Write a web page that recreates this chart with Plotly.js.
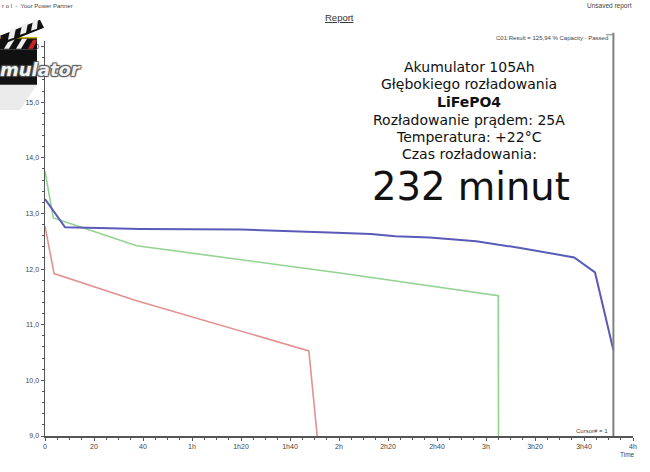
<!DOCTYPE html>
<html>
<head>
<meta charset="utf-8">
<script src="https://cdn.plot.ly/plotly-3.0.1.min.js"></script>
<style>
html,body{margin:0;padding:0;background:#fff;}
#chart{width:650px;height:472px;}
</style>
</head>
<body>
<div id="chart"></div>
<script>
// ---- data (time in minutes, voltage in V) ----
var blueTime   = [0, 8.2, 22, 39, 80, 104, 116, 133, 143, 157, 176, 194, 208, 216, 224.5, 232];
var blueVolt   = [13.26, 12.75, 12.74, 12.72, 12.71, 12.68, 12.66, 12.63, 12.59, 12.57, 12.50, 12.38, 12.27, 12.21, 11.94, 10.54];
var greenTime  = [0, 3.4, 7.5, 37.4, 120.4, 185, 185.1];
var greenVolt  = [13.76, 12.92, 12.86, 12.42, 11.93, 11.52, 9.0];
var redTime    = [0, 3.7, 37.4, 107.7, 111.1];
var redVolt    = [12.77, 11.92, 11.43, 10.53, 9.0];
var cursorMinutes = 232;

var xTickVals  = [0, 20, 40, 60, 80, 100, 120, 140, 160, 180, 200, 220, 240];
var xTickText  = ['0', '20', '40', '1h', '1h20', '1h40', '2h', '2h20', '2h40', '3h', '3h20', '3h40', '4h'];
var yTickVals  = [9, 10, 11, 12, 13, 14, 15, 16];
var yTickText  = ['9,0', '10,0', '11,0', '12,0', '13,0', '14,0', '15,0', '16,0'];

var infoLines  = ['Akumulator 105Ah', 'Głębokiego rozładowania', '<b>LiFePO4</b>',
                  'Rozładowanie prądem: 25A', 'Temperatura: +22°C', 'Czas rozładowania:'];
var bigLine    = '232 minut';

// ---- layout helpers (pixel -> paper) ----
var L = 45, R = 633, T = 41.2, B = 435.7;
function px(x){ return (x - L) / (R - L); }
function py(y){ return (B - y) / (B - T); }

var traces = [
  {x: redTime, y: redVolt, mode: 'lines', line: {color: '#e39191', width: 1.6}, hoverinfo: 'skip'},
  {x: greenTime, y: greenVolt, mode: 'lines', line: {color: '#92d392', width: 1.6}, hoverinfo: 'skip'},
  {x: blueTime, y: blueVolt, mode: 'lines', line: {color: '#5a5ab8', width: 2}, hoverinfo: 'skip'}
];

var F = 'DejaVu Sans, sans-serif';
var ann = [];
var lineY = [67, 84, 102, 120, 137, 154];
infoLines.forEach(function(t, i){
  ann.push({xref:'paper', yref:'paper', x: px(469), y: py(lineY[i]), text: t, showarrow:false,
            xanchor:'center', yanchor:'middle', font:{family:F, size:14, color:'#111'}});
});
ann.push({xref:'paper', yref:'paper', x: px(471), y: py(187), text: bigLine, showarrow:false,
          xanchor:'center', yanchor:'middle', font:{family:F, size:38.5, color:'#111'}});
// header texts
ann.push({xref:'paper', yref:'paper', x: px(0), y: py(6), text: 'r o l  -  Your Power Partner', showarrow:false,
          xanchor:'left', yanchor:'middle', font:{family:'Liberation Sans, Arial', size:6, color:'#444'}});
ann.push({xref:'paper', yref:'paper', x: px(634), y: py(6), text: 'Unsaved report', showarrow:false,
          xanchor:'right', yanchor:'middle', font:{family:'Liberation Sans, Arial', size:6.5, color:'#444'}});
ann.push({xref:'paper', yref:'paper', x: px(340), y: py(18), text: '<u>Report</u>', showarrow:false,
          xanchor:'center', yanchor:'middle', font:{family:'Liberation Sans, Arial', size:9.5, color:'#333'}});
ann.push({xref:'paper', yref:'paper', x: px(610), y: py(38), text: 'C01:Result = 125,94 % Capacity - Passed', showarrow:false,
          xanchor:'right', yanchor:'middle', font:{family:'Liberation Sans, Arial', size:6, color:'#444'}});
ann.push({xref:'paper', yref:'paper', x: px(610), y: py(431), text: 'Cursor# = 1', showarrow:false,
          xanchor:'right', yanchor:'middle', font:{family:'Liberation Sans, Arial', size:6, color:'#444'}});
ann.push({xref:'paper', yref:'paper', x: px(627), y: py(454), text: 'Time', showarrow:false,
          xanchor:'center', yanchor:'middle', font:{family:'Liberation Sans, Arial', size:6.5, color:'#444'}});
// logo text
ann.push({xref:'paper', yref:'paper', x: px(-2), y: py(70), text: '<b><i>mulator</i></b>', showarrow:false,
          xanchor:'left', yanchor:'middle',
          font:{family:'DejaVu Sans, sans-serif', size:18, color:'#f2f2f2', shadow:'1px 1px 1px #555, -1px -1px 1px #555, 1px -1px 1px #555, -1px 1px 1px #555'}});

var shapes = [
  // cursor line
  {type:'line', xref:'x', yref:'paper', x0: cursorMinutes, x1: cursorMinutes, y0: 0, y1: py(33),
   line:{color:'#808080', width:2}},
  {type:'line', xref:'paper', yref:'paper', x0: px(606), x1: px(613), y0: py(35), y1: py(35), line:{color:'#808080', width:1}},
  // logo: shadow
  {type:'path', xref:'paper', yref:'paper', layer:'below',
   path:'M '+px(0)+' '+py(85)+' L '+px(37)+' '+py(85)+' L '+px(20)+' '+py(110)+' L '+px(0)+' '+py(110)+' Z',
   fillcolor:'rgba(0,0,0,0.08)', line:{width:0}},
  // logo: black board
  {type:'rect', xref:'paper', yref:'paper', x0: px(0), x1: px(37), y0: py(85), y1: py(50),
   fillcolor:'#111', line:{width:0}},
  // board stripe bar
  {type:'rect', xref:'paper', yref:'paper', x0: px(0), x1: px(37), y0: py(50), y1: py(38),
   fillcolor:'#111', line:{width:0}},
  {type:'path', xref:'paper', yref:'paper',
   path:'M '+px(4)+' '+py(49)+' L '+px(10)+' '+py(39)+' L '+px(15)+' '+py(39)+' L '+px(9)+' '+py(49)+' Z',
   fillcolor:'#eee', line:{width:0}},
  {type:'path', xref:'paper', yref:'paper',
   path:'M '+px(16)+' '+py(49)+' L '+px(22)+' '+py(39)+' L '+px(27)+' '+py(39)+' L '+px(21)+' '+py(49)+' Z',
   fillcolor:'#eee', line:{width:0}},
  {type:'path', xref:'paper', yref:'paper',
   path:'M '+px(28)+' '+py(49)+' L '+px(33)+' '+py(40)+' L '+px(37)+' '+py(40)+' L '+px(33)+' '+py(49)+' Z',
   fillcolor:'#c22', line:{width:0}},
  {type:'line', xref:'paper', yref:'paper', x0: px(0), x1: px(37), y0: py(38), y1: py(38), line:{color:'#c8b400', width:1.5}},
  // clapper top (tilted)
  {type:'path', xref:'paper', yref:'paper',
   path:'M '+px(0)+' '+py(36)+' L '+px(40)+' '+py(20)+' L '+px(44)+' '+py(28)+' L '+px(4)+' '+py(44)+' Z',
   fillcolor:'#111', line:{width:0}},
  {type:'path', xref:'paper', yref:'paper',
   path:'M '+px(8)+' '+py(40)+' L '+px(10)+' '+py(30)+' L '+px(16)+' '+py(28)+' L '+px(14)+' '+py(38)+' Z',
   fillcolor:'#eee', line:{width:0}},
  {type:'path', xref:'paper', yref:'paper',
   path:'M '+px(20)+' '+py(35)+' L '+px(22)+' '+py(25)+' L '+px(28)+' '+py(23)+' L '+px(26)+' '+py(33)+' Z',
   fillcolor:'#eee', line:{width:0}},
  {type:'path', xref:'paper', yref:'paper',
   path:'M '+px(31)+' '+py(31)+' L '+px(33)+' '+py(21)+' L '+px(38)+' '+py(19)+' L '+px(37)+' '+py(29)+' Z',
   fillcolor:'#eee', line:{width:0}}
];

var axisCommon = {
  showgrid:false, zeroline:false, showline:true, linecolor:'#555', linewidth:1.5,
  ticks:'outside', ticklen:3, tickwidth:1, tickcolor:'#555',
  tickfont:{family:'Liberation Sans, Arial', size:7, color:'#444'},
  fixedrange:true
};

var layout = {
  width:650, height:472,
  margin:{l:L, r:650-R, t:T, b:472-B, pad:0},
  paper_bgcolor:'#fff', plot_bgcolor:'#fff',
  showlegend:false,
  xaxis: Object.assign({}, axisCommon, {
    range:[0, 240], tickmode:'array', tickvals:xTickVals, ticktext:xTickText,
    minor:{dtick:5, ticks:'outside', ticklen:2, tickcolor:'#555'}
  }),
  yaxis: Object.assign({}, axisCommon, {
    range:[9, 16.1], tickmode:'array', tickvals:yTickVals, ticktext:yTickText,
    minor:{dtick:0.2, tick0:9, ticks:'outside', ticklen:2, tickcolor:'#555'}
  }),
  annotations: ann,
  shapes: shapes
};

Plotly.newPlot('chart', traces, layout, {staticPlot:true, displayModeBar:false});
</script>
</body>
</html>
